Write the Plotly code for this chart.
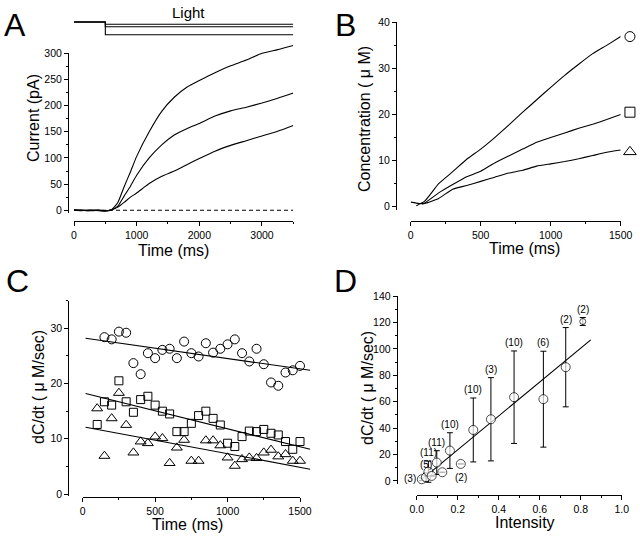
import plotly.graph_objects as go

W, H = 640, 536
def fx(p): return p / W
def fy(p): return 1 - p / H

# ---------------- data ----------------
# Panel A: photocurrent traces (pA) vs time (ms)
a_time = [0, 100, 200, 300, 400, 500, 600, 700, 800, 900, 1000, 1200, 1400,
          1600, 1800, 2000, 2250, 2500, 2750, 3000, 3250, 3500]
a_high = [1, -1, 0.5, 0, -1, -2, 1, 15, 45, 73, 103, 150, 189, 216, 235, 248,
          263, 276, 287, 300, 307, 315]
a_mid = [0, 1, -1, 0.5, 0, -1, 1, 8, 27, 46, 67, 100, 125, 144, 156, 166,
         180, 190, 197, 205, 214, 224]
a_low = [1, 0, -0.5, -1, 0.5, -1, 1, 6, 15, 25, 33, 51, 65, 75, 87, 99,
         113, 124, 133, 142, 151, 162]
a_baseline = 0
light_on = 500
light_before = 1.0
light_levels = [0.82, 0.63, 0.0]

# Panel B: concentration (uM) vs time (ms)
b_time_c = [40, 100, 200, 300, 400, 500, 600, 700, 800, 900, 1000, 1100, 1200, 1300, 1400, 1500]
b_circle = [0.2, 1.2, 5.0, 7.6, 10.3, 12.5, 15.0, 17.7, 20.5, 23.2, 25.9, 28.5, 30.9, 33.2, 35.0, 36.9]
b_time_s = [80, 100, 200, 300, 400, 500, 600, 700, 800, 900, 1000, 1100, 1200, 1300, 1400, 1500]
b_square = [0.6, 0.8, 3.0, 4.8, 6.5, 7.7, 9.5, 11.0, 12.5, 14.0, 15.0, 16.0, 17.0, 17.9, 18.9, 20.0]
b_time_t = [0, 60, 100, 200, 300, 400, 500, 600, 700, 800, 900, 1000, 1100, 1200, 1300, 1400, 1500]
b_triangle = [1.0, 0.7, 0.7, 1.8, 3.8, 4.6, 5.5, 6.4, 7.3, 7.9, 8.8, 9.3, 9.8, 10.4, 11.1, 11.8, 12.3]
b_key_time = 1566
b_key_values = [36.9, 20.5, 11.9]

# Panel C: dC/dt (uM/sec) vs time (ms)
c_time_circle = list(range(150, 1501, 50))
c_circle = [28.4, 28.0, 29.4, 29.2, 23.7, 21.7, 25.5, 24.6, 26.1, 26.3, 24.6, 27.6,
            25.5, 24.9, 27.3, 25.6, 26.3, 27.1, 28.0, 25.5, 24.0, 26.3, 23.5, 20.2,
            19.6, 22.0, 22.4, 23.2]
c_time = list(range(100, 1501, 50))
c_square = [12.6, 16.7, 16.1, 20.5, 16.7, 14.8, 17.1, 17.7, 16.1, 15.0, 14.5, 11.3,
            11.3, 12.8, 14.2, 15.0, 13.7, 12.5, 9.2, 8.6, 10.4, 11.4, 11.3, 11.7,
            11.0, 10.7, 9.5, 8.1, 9.5]
c_triangle = [15.5, 6.9, 13.7, 18.3, 12.5, 7.5, 9.5, 9.2, 10.4, 10.1, 5.6, 8.4,
              9.8, 6.0, 6.0, 9.7, 9.7, 8.8, 6.6, 5.1, 6.3, 6.6, 6.5, 7.5,
              8.0, 6.8, 7.2, 6.0, 6.0]
c_fit_time = [20, 1570]
c_fit_circle = [28.2, 22.4]
c_fit_square = [18.2, 8.1]
c_fit_triangle = [12.1, 4.5]

# Panel D: dC/dt vs intensity
d_intensity = [0.025, 0.045, 0.057, 0.073, 0.098, 0.125, 0.162, 0.215, 0.276,
               0.362, 0.475, 0.618, 0.727, 0.810]
d_rate = [1.3, 2.8, 7.0, 3.8, 13.9, 6.6, 23.0, 12.9, 38.6, 46.7, 63.4, 61.9, 86.1, 120.7]
d_err = [1, 3, 8, 0, 9, 0, 13.5, 0, 24.2, 31.5, 35, 36.3, 30, 3]
d_n = ["(3)", "(5)", "(11)", "", "(11)", "", "(10)", "(2)", "(10)", "(3)",
       "(10)", "(6)", "(2)", "(2)"]
d_label_pos = ["left", "above", "above", "", "above", "", "above", "below", "above",
               "above", "above", "above", "above", "above"]
d_fit_intensity = [0.024, 0.849]
d_fit_rate = [1.0, 106.8]

# ---------------- styling ----------------
TICKFONT = dict(family="Liberation Sans Narrow, Arial Narrow, Liberation Sans, Arial, sans-serif",
                size=10.5, color="black")
TXT = "Liberation Sans, Arial, Helvetica, sans-serif"
LINE = dict(color="black", width=1.1)


def vis_axis(px0, px1, rng, pos, dtick, mdtick, vertical=False, fmt=None):
    dom = [fy(px0), fy(px1)] if vertical else [fx(px0), fx(px1)]
    d = dict(domain=dom, range=rng, anchor="free", position=pos, automargin=False,
             showline=True, linecolor="black", linewidth=1,
             ticks="outside", ticklen=4, tickwidth=1, tickcolor="black",
             tick0=0, dtick=dtick,
             minor=dict(tick0=0, dtick=mdtick, ticks="outside", ticklen=2,
                        tickwidth=1, tickcolor="black"),
             showgrid=False, zeroline=False, tickfont=TICKFONT,
             fixedrange=True)
    if fmt:
        d["tickformat"] = fmt
    return d


def hid_axis(px0, px1, rng, anchor, vertical=False):
    dom = [fy(px0), fy(px1)] if vertical else [fx(px0), fx(px1)]
    return dict(domain=dom, range=rng, visible=False, anchor=anchor, automargin=False,
                showgrid=False, zeroline=False, fixedrange=True)


fig = go.Figure()

# ---- Panel A ----
for ys in (a_high, a_mid, a_low):
    fig.add_trace(go.Scatter(x=a_time, y=ys, mode="lines", xaxis="x8", yaxis="y8",
                             line=dict(color="black", width=1.1, shape="spline", smoothing=0.5),
                             hoverinfo="skip", showlegend=False))
fig.add_trace(go.Scatter(x=[a_time[0], a_time[-1]], y=[a_baseline, a_baseline], mode="lines",
                         xaxis="x", yaxis="y", line=dict(color="black", width=1, dash="4px,3px"),
                         showlegend=False, hoverinfo="skip"))
for lv in light_levels:
    fig.add_trace(go.Scatter(x=[a_time[0], light_on, light_on, a_time[-1]],
                             y=[light_before, light_before, lv, lv], mode="lines",
                             xaxis="x2", yaxis="y2", line=dict(color="black", width=1.1),
                             showlegend=False, hoverinfo="skip"))

# ---- Panel B ----
for tt, ys in ((b_time_c, b_circle), (b_time_s, b_square), (b_time_t, b_triangle)):
    fig.add_trace(go.Scatter(x=tt, y=ys, mode="lines", xaxis="x3", yaxis="y3",
                             line=dict(color="black", width=1.1, shape="spline", smoothing=0.4),
                             showlegend=False, hoverinfo="skip"))
for sym, val, sz in zip(["circle-open", "square-open", "triangle-up-open"], b_key_values, [10, 10, 11]):
    fig.add_trace(go.Scatter(x=[b_key_time], y=[val], mode="markers", xaxis="x4", yaxis="y4",
                             marker=dict(symbol=sym, size=sz, color="black", line=dict(width=1)),
                             showlegend=False, hoverinfo="skip", cliponaxis=False))

# ---- Panel C ----
for ys in (c_fit_circle, c_fit_square, c_fit_triangle):
    fig.add_trace(go.Scatter(x=c_fit_time, y=ys, mode="lines", xaxis="x6", yaxis="y6",
                             line=LINE, showlegend=False, hoverinfo="skip"))
fig.add_trace(go.Scatter(x=c_time_circle, y=c_circle, mode="markers", xaxis="x5", yaxis="y5",
                         marker=dict(symbol="circle-open", size=9, color="black", line=dict(width=1)),
                         showlegend=False, cliponaxis=False))
fig.add_trace(go.Scatter(x=c_time, y=c_square, mode="markers", xaxis="x5", yaxis="y5",
                         marker=dict(symbol="square-open", size=8, color="black", line=dict(width=1)),
                         showlegend=False, cliponaxis=False))
fig.add_trace(go.Scatter(x=c_time, y=c_triangle, mode="markers", xaxis="x5", yaxis="y5",
                         marker=dict(symbol="triangle-up-open", size=9.5, color="black", line=dict(width=1)),
                         showlegend=False, cliponaxis=False))

# ---- Panel D ----
fig.add_trace(go.Scatter(x=d_fit_intensity, y=d_fit_rate, mode="lines", xaxis="x7", yaxis="y7",
                         line=LINE, showlegend=False, hoverinfo="skip"))
d_sizes = [9] * (len(d_intensity) - 1) + [6]
fig.add_trace(go.Scatter(x=d_intensity, y=d_rate, mode="markers", xaxis="x7", yaxis="y7",
                         marker=dict(symbol="circle", size=d_sizes, color="white",
                                     line=dict(color="black", width=1)),
                         error_y=dict(type="data", array=d_err, visible=True, color="black",
                                      thickness=1, width=3),
                         showlegend=False, cliponaxis=False))

# ---------------- layout ----------------
A_Y_PX_PER = (210.3 - 53.3) / 300.0
layout = dict(
    width=W, height=H, margin=dict(l=0, r=0, t=0, b=0, autoexpand=False),
    paper_bgcolor="white", plot_bgcolor="rgba(0,0,0,0)", showlegend=False,
    # A
    xaxis=vis_axis(74, 293.3, [0, 3500], fy(221), 1000, 500),
    yaxis=vis_axis(213.4, 53.3, [-6, 300], fx(68), 50, 25, vertical=True),
    xaxis2=hid_axis(74, 293.3, [0, 3500], "y2"),
    yaxis2=hid_axis(35.97, 20.73, [-0.1, 1.1], "x2", vertical=True),
    xaxis8=hid_axis(74, 293.3, [0, 3500], "y8"),
    yaxis8=hid_axis(213.4, 210.3 - 325 * A_Y_PX_PER, [-6, 325], "x8", vertical=True),
    # B
    xaxis3=vis_axis(410.7, 620.7, [0, 1500], fy(221), 500, 250),
    yaxis3=vis_axis(210.4, 22.3, [-0.8, 40], fx(396), 10, 5, vertical=True),
    xaxis4=hid_axis(410.7, 634.7, [0, 1600], "y4"),
    yaxis4=hid_axis(210.4, 22.3, [-0.8, 40], "x4", vertical=True),
    # C
    xaxis5=vis_axis(82.7, 300, [0, 1500], fy(497), 500, 250),
    yaxis5=vis_axis(495.7, 300.7, [-0.3, 35], fx(68.3), 10, 5, vertical=True),
    xaxis6=hid_axis(82.7, 314.5, [0, 1600], "y6"),
    yaxis6=hid_axis(495.7, 300.7, [-0.3, 35], "x6", vertical=True),
    # D
    xaxis7=vis_axis(416.7, 621.9, [0, 1.001], fy(495), 0.2, 0.1, fmt=".1f"),
    yaxis7=vis_axis(483.6, 296, [-2, 140], fx(396.7), 20, 10, vertical=True),
)
fig.update_layout(**layout)

ann = []
def txt(text, px, py, size, angle=0, family=TXT):
    ann.append(dict(text=text, x=fx(px), y=fy(py), xref="paper", yref="paper",
                    xanchor="center", yanchor="middle", showarrow=False, textangle=angle,
                    font=dict(family=family, size=size, color="black")))

# panel letters
txt("A", 15, 25, 32)
txt("B", 345, 25, 32)
txt("C", 17.5, 281, 32)
txt("D", 345, 281, 32)
txt("Light", 188, 13, 15)
# axis titles
txt("Time (ms)", 173, 250, 16)
txt("Current (pA)", 33, 118, 16, -90)
txt("Time (ms)", 524, 248, 16)
txt("Concentration ( \u03bc M)", 365, 119, 16, -90)
txt("Time (ms)", 187, 524, 16)
txt("dC/dt ( \u03bc M/sec)", 38, 387, 16, -90)
txt("Intensity", 525, 522, 16)
txt("dC/dt ( \u03bc M/sec)", 367, 388, 16, -90)

# n labels in D
for xi, yi, ei, lab, pos in zip(d_intensity, d_rate, d_err, d_n, d_label_pos):
    if not lab:
        continue
    a = dict(text=lab, x=xi, y=yi, xref="x7", yref="y7", showarrow=False,
             font=dict(family=TICKFONT["family"], size=10, color="black"))
    if pos == "above":
        a.update(y=yi + ei, yanchor="bottom", xanchor="center", yshift=1)
    elif pos == "left":
        a.update(xanchor="right", yanchor="middle", xshift=-4, yshift=1)
    elif pos == "below":
        a.update(yanchor="top", xanchor="center", yshift=-6)
    ann.append(a)

fig.update_layout(annotations=ann)
fig.write_html("out.html", config={"displayModeBar": False},
               post_script="document.body.style.margin='0px';document.body.style.overflow='hidden';")
